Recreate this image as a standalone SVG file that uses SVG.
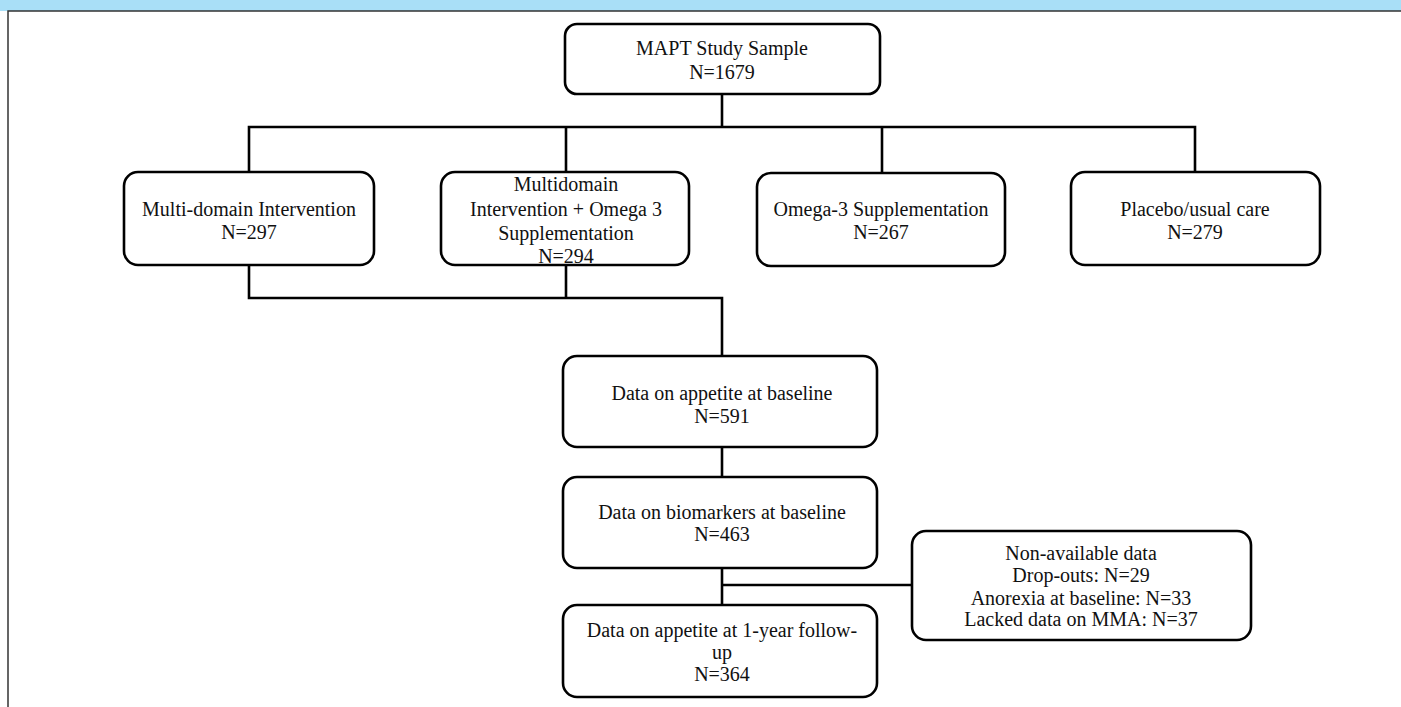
<svg xmlns="http://www.w3.org/2000/svg" width="1401" height="707" viewBox="0 0 1401 707">
<style>
.box{fill:#fff;stroke:#000;stroke-width:2.6}
.ln{fill:none;stroke:#000;stroke-width:2.6}
text{font-family:"Liberation Serif","Times New Roman",serif;font-size:20px;fill:#111;text-anchor:middle}
</style>
<rect x="0" y="0" width="1401" height="707" fill="#fff"/>
<rect x="0" y="0" width="1401" height="11" fill="#a9dff7"/>
<path d="M8,707 V11 H1401" fill="none" stroke="#333" stroke-width="1.5"/>
<g id="connectors">
<path class="ln" d="M722,94 V127"/>
<path class="ln" d="M249,172 V127 H1195 V172"/>
<path class="ln" d="M566,127 V172"/>
<path class="ln" d="M882,127 V172"/>
<path class="ln" d="M249,265 V298 H722 V356"/>
<path class="ln" d="M566,265 V298"/>
<path class="ln" d="M722,447 V477"/>
<path class="ln" d="M722,568 V605"/>
<path class="ln" d="M722,585 H912"/>
</g>
<g id="mapt">
<rect class="box" x="565" y="24" width="315" height="70" rx="12"/>
<text x="722" y="55">MAPT Study Sample</text>
<text x="722" y="79">N=1679</text>
</g>
<g id="multidomain">
<rect class="box" x="124" y="172" width="250" height="93" rx="14"/>
<text x="249" y="216">Multi-domain Intervention</text>
<text x="249" y="239">N=297</text>
</g>
<g id="multidomain-omega">
<rect class="box" x="441" y="172" width="248" height="93" rx="14"/>
<text x="566" y="191">Multidomain</text>
<text x="566" y="216">Intervention + Omega 3</text>
<text x="566" y="240">Supplementation</text>
<text x="566" y="263">N=294</text>
</g>
<g id="omega3">
<rect class="box" x="757" y="173" width="248" height="93" rx="14"/>
<text x="881" y="216">Omega-3 Supplementation</text>
<text x="881" y="239">N=267</text>
</g>
<g id="placebo">
<rect class="box" x="1071" y="172" width="249" height="93" rx="14"/>
<text x="1195" y="216">Placebo/usual care</text>
<text x="1195" y="239">N=279</text>
</g>
<g id="appetite-baseline">
<rect class="box" x="563" y="356" width="314" height="91" rx="14"/>
<text x="722" y="400">Data on appetite at baseline</text>
<text x="722" y="423">N=591</text>
</g>
<g id="biomarkers">
<rect class="box" x="563" y="477" width="314" height="91" rx="14"/>
<text x="722" y="519">Data on biomarkers at baseline</text>
<text x="722" y="541">N=463</text>
</g>
<g id="non-available">
<rect class="box" x="912" y="531" width="339" height="109" rx="14"/>
<text x="1081" y="560">Non-available data</text>
<text x="1081" y="582">Drop-outs: N=29</text>
<text x="1081" y="605">Anorexia at baseline: N=33</text>
<text x="1081" y="626">Lacked data on MMA: N=37</text>
</g>
<g id="appetite-followup">
<rect class="box" x="563" y="605" width="314" height="92" rx="14"/>
<text x="722" y="637">Data on appetite at 1-year follow-</text>
<text x="722" y="659">up</text>
<text x="722" y="681">N=364</text>
</g>
</svg>
